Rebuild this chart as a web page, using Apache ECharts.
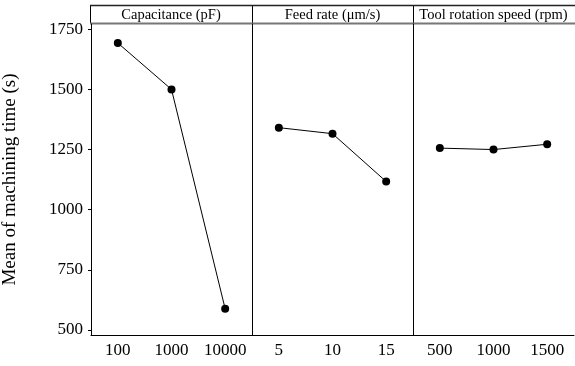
<!DOCTYPE html>
<html>
<head>
<meta charset="utf-8">
<script src="https://cdn.jsdelivr.net/npm/echarts@6/dist/echarts.min.js"></script>
<style>
  html, body { margin: 0; padding: 0; background: #fff; }
  #main { width: 575px; height: 366px; }
</style>
</head>
<body>
<div id="main"></div>
<script>
// main effects plot, 3 factors
let factorNames = ['Capacitance (pF)', 'Feed rate (\u03bcm/s)', 'Tool rotation speed (rpm)'];
let capLevels = ['100', '1000', '10000'];
let capMeans = [1693, 1500, 588];
let feedLevels = ['5', '10', '15'];
let feedMeans = [1341, 1316, 1117];
let speedLevels = ['500', '1000', '1500'];
let speedMeans = [1256, 1250, 1272];
let yTicks = [500, 750, 1000, 1250, 1500, 1750];

const FONT = 'Liberation Serif';
let levels = [capLevels, feedLevels, speedLevels];
let means = [capMeans, feedMeans, speedMeans];
let panels = [[90, 162], [252, 161], [413, 161]];
let plotTop = 24, plotBottom = 335, frameTop = 5;

let chart = echarts.init(document.getElementById('main'));

let grids = [], xAxes = [], yAxes = [], series = [], graphics = [];
for (let i = 0; i < 3; i++) {
  grids.push({ left: panels[i][0], width: panels[i][1], top: plotTop, height: plotBottom - plotTop });
  xAxes.push({
    type: 'category', gridIndex: i, data: levels[i], boundaryGap: true,
    axisLine: { lineStyle: { color: '#000', width: 1 } },
    axisTick: { alignWithLabel: true, length: 3, lineStyle: { color: '#000' } },
    axisLabel: { color: '#000', fontFamily: FONT, fontSize: 17, margin: 7, interval: 0 }
  });
  yAxes.push({
    type: 'value', gridIndex: i, min: 479, max: 1772,
    name: i === 0 ? 'Mean of machining time (s)' : '',
    nameLocation: 'middle', nameGap: 71,
    nameTextStyle: { color: '#000', fontFamily: FONT, fontSize: 19 },
    splitLine: { show: false },
    axisLine: { show: true, lineStyle: { color: '#000', width: 1 } },
    axisTick: { show: i === 0, length: 3, lineStyle: { color: '#000' }, customValues: yTicks },
    axisLabel: {
      show: i === 0, color: '#000', fontFamily: FONT, fontSize: 17, margin: 8, customValues: yTicks,
      formatter: (v) => String(v)
    }
  });
  series.push({
    type: 'line', xAxisIndex: i, yAxisIndex: i, data: means[i],
    symbol: 'circle', symbolSize: 8,
    itemStyle: { color: '#000' },
    lineStyle: { color: '#000', width: 1 },
    animation: false
  });
  // strip header text
  graphics.push({
    type: 'text', x: panels[i][0] + panels[i][1] / 2, y: (frameTop + plotTop) / 2 + 1,
    style: { text: factorNames[i], font: '14.5px ' + FONT, fill: '#000', textAlign: 'center', textVerticalAlign: 'middle' }
  });
  // vertical line through the strip
  graphics.push({
    type: 'line', shape: { x1: panels[i][0] + 0.5, y1: frameTop, x2: panels[i][0] + 0.5, y2: plotTop },
    style: { stroke: '#000', lineWidth: 1 }
  });
}
// top border and strip underline
graphics.push({
  type: 'line', shape: { x1: 90, y1: frameTop + 0.5, x2: 575, y2: frameTop + 0.5 },
  style: { stroke: '#222', lineWidth: 1.5 }
});
graphics.push({
  type: 'line', shape: { x1: 90, y1: plotTop - 0.5, x2: 575, y2: plotTop - 0.5 },
  style: { stroke: '#777', lineWidth: 2 }
});

chart.setOption({
  backgroundColor: '#fff',
  animation: false,
  grid: grids,
  xAxis: xAxes,
  yAxis: yAxes,
  series: series,
  graphic: graphics
});
</script>
</body>
</html>
